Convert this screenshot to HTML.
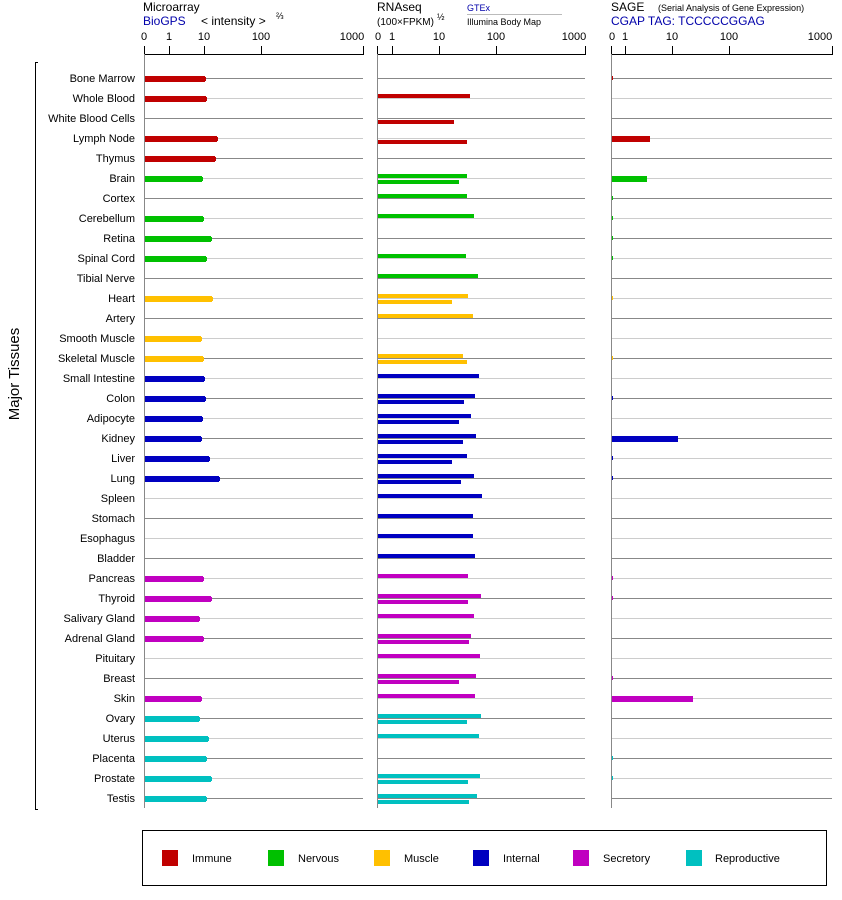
<!DOCTYPE html>
<html><head><meta charset="utf-8"><style>
body{margin:0;background:#fff}
svg{display:block;font-family:"Liberation Sans",sans-serif}
.l{font-size:11px;text-anchor:end;fill:#000}
.t{font-size:11px;text-anchor:middle}
</style></head><body>
<svg width="842" height="900" viewBox="0 0 842 900">
<text x="143" y="11" font-size="12">Microarray</text>
<text x="143" y="25" font-size="12" fill="#0000aa">BioGPS</text>
<text x="201" y="25" font-size="12">&lt; intensity &gt;</text><text x="276" y="19" font-size="9">⅔</text>
<text x="377" y="11" font-size="12">RNAseq</text>
<text x="377" y="25" font-size="10">(100×FPKM)</text><text x="437" y="20" font-size="9">½</text>
<text x="467" y="11" font-size="9" fill="#0000aa">GTEx</text>
<line x1="467" y1="14.5" x2="562" y2="14.5" stroke="#bbb"/>
<text x="467" y="25" font-size="9">Illumina Body Map</text>
<text x="611" y="11" font-size="12">SAGE</text>
<text x="658" y="11" font-size="9">(Serial Analysis of Gene Expression)</text>
<text x="611" y="25" font-size="12" fill="#0000aa">CGAP TAG: TCCCCCGGAG</text>
<g stroke="#000" fill="none">
<path d="M144.5 46V54.5H363.5V46M169.5 46V54M204.5 46V54M261.5 46V54"/>
<path d="M377.5 46V54.5H585.5V46M392.5 46V54M439.5 46V54M496.5 46V54"/>
<path d="M611.5 46V54.5H832.5V46M625.5 46V54M672.5 46V54M729.5 46V54"/>
</g>
<g class="t">
<text x="144" y="40">0</text><text x="169" y="40">1</text><text x="204" y="40">10</text><text x="261" y="40">100</text><text x="352" y="40">1000</text>
<text x="378" y="40">0</text><text x="392" y="40">1</text><text x="439" y="40">10</text><text x="496" y="40">100</text><text x="574" y="40">1000</text>
<text x="612" y="40">0</text><text x="625" y="40">1</text><text x="672" y="40">10</text><text x="729" y="40">100</text><text x="820" y="40">1000</text>
</g>
<g stroke="#888"><line x1="144.5" y1="54" x2="144.5" y2="808"/><line x1="377.5" y1="54" x2="377.5" y2="808"/><line x1="611.5" y1="54" x2="611.5" y2="808"/></g>
<path d="M38 62.5H35.5V809.5H38" stroke="#000" fill="none"/>
<text transform="translate(19 374) rotate(-90)" font-size="15" text-anchor="middle">Major Tissues</text>
<g id="grid"></g>
<g class="l">
<text x="135" y="82">Bone Marrow</text><text x="135" y="102">Whole Blood</text><text x="135" y="122">White Blood Cells</text><text x="135" y="142">Lymph Node</text><text x="135" y="162">Thymus</text>
<text x="135" y="182">Brain</text><text x="135" y="202">Cortex</text><text x="135" y="222">Cerebellum</text><text x="135" y="242">Retina</text><text x="135" y="262">Spinal Cord</text><text x="135" y="282">Tibial Nerve</text>
<text x="135" y="302">Heart</text><text x="135" y="322">Artery</text><text x="135" y="342">Smooth Muscle</text><text x="135" y="362">Skeletal Muscle</text>
<text x="135" y="382">Small Intestine</text><text x="135" y="402">Colon</text><text x="135" y="422">Adipocyte</text><text x="135" y="442">Kidney</text><text x="135" y="462">Liver</text><text x="135" y="482">Lung</text><text x="135" y="502">Spleen</text><text x="135" y="522">Stomach</text><text x="135" y="542">Esophagus</text><text x="135" y="562">Bladder</text>
<text x="135" y="582">Pancreas</text><text x="135" y="602">Thyroid</text><text x="135" y="622">Salivary Gland</text><text x="135" y="642">Adrenal Gland</text><text x="135" y="662">Pituitary</text><text x="135" y="682">Breast</text><text x="135" y="702">Skin</text>
<text x="135" y="722">Ovary</text><text x="135" y="742">Uterus</text><text x="135" y="762">Placenta</text><text x="135" y="782">Prostate</text><text x="135" y="802">Testis</text>
</g>
<g id="bars"></g>
<rect x="142.5" y="830.5" width="684" height="55" fill="none" stroke="#000"/>
<rect x="162" y="850" width="16" height="16" fill="#c00000"/><text x="192" y="862" font-size="11">Immune</text>
<rect x="268" y="850" width="16" height="16" fill="#00c000"/><text x="298" y="862" font-size="11">Nervous</text>
<rect x="374" y="850" width="16" height="16" fill="#ffc000"/><text x="404" y="862" font-size="11">Muscle</text>
<rect x="473" y="850" width="16" height="16" fill="#0000c0"/><text x="503" y="862" font-size="11">Internal</text>
<rect x="573" y="850" width="16" height="16" fill="#c000c0"/><text x="603" y="862" font-size="11">Secretory</text>
<rect x="686" y="850" width="16" height="16" fill="#00c0c0"/><text x="715" y="862" font-size="11">Reproductive</text>
</svg>
<script>
var NS="http://www.w3.org/2000/svg";
function el(p,t,a){var e=document.createElementNS(NS,t);for(var k in a)e.setAttribute(k,a[k]);p.appendChild(e);return e;}
var C={R:"#c00000",G:"#00c000",Y:"#ffc000",B:"#0000c0",M:"#c000c0",T:"#00c0c0"};
var D=[
["R",205,0,0,613],["R",206,470,0,0],["R",0,0,454,0],["R",217,0,467,650],["R",215,0,0,0],
["G",202,467,459,647],["G",0,467,0,613],["G",203,474,0,613],["G",211,0,0,613],["G",206,466,0,613],["G",0,478,0,0],
["Y",212,468,452,613],["Y",0,473,0,0],["Y",201,0,0,0],["Y",203,463,467,613],
["B",204,479,0,0],["B",205,475,464,613],["B",202,471,459,0],["B",201,476,463,678],["B",209,467,452,613],["B",219,474,461,613],["B",0,482,0,0],["B",0,473,0,0],["B",0,473,0,0],["B",0,475,0,0],
["M",203,468,0,613],["M",211,481,468,613],["M",199,474,0,0],["M",203,471,469,0],["M",0,480,0,0],["M",0,476,459,613],["M",201,475,0,693],
["T",199,481,467,0],["T",208,479,0,0],["T",206,0,0,613],["T",211,480,468,613],["T",206,477,469,0]];
var g=document.getElementById("grid"),b=document.getElementById("bars");
D.forEach(function(d,i){
 var y=78+20*i,s=i%2?"#ccc":"#888",c=C[d[0]];
 [[144,363],[377,585],[611,832]].forEach(function(r){el(g,"line",{x1:r[0]+1,x2:r[1],y1:y+.5,y2:y+.5,stroke:s});});
 if(d[1]){el(b,"rect",{x:145,y:y-2,width:d[1]-145,height:6,fill:c});el(b,"rect",{x:d[1]-1,y:y-1,width:2,height:4,fill:c});}
 if(d[2]){el(b,"rect",{x:378,y:y-4,width:d[2]-378,height:4,fill:c});}
 if(d[3]){el(b,"rect",{x:378,y:y+2,width:d[3]-378,height:4,fill:c});}
 if(d[4]){var w=d[4]-612;el(b,"rect",{x:612,y:y-2,width:w,height:w>3?6:4,fill:c});}
});
</script>
</body></html>
